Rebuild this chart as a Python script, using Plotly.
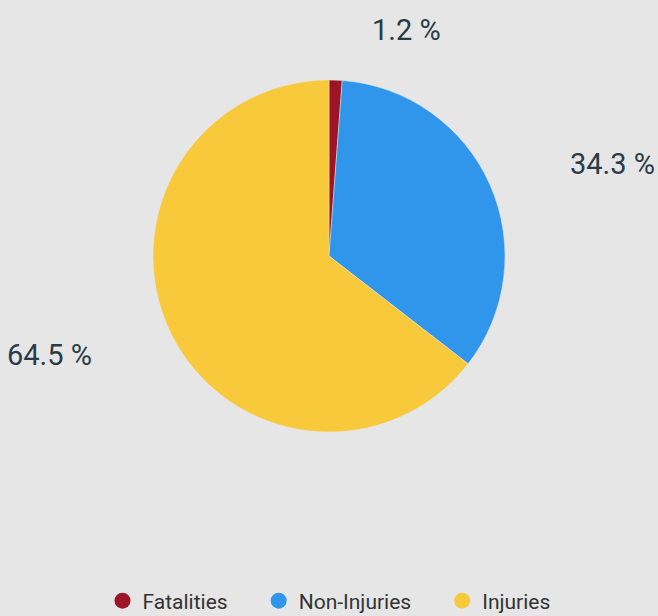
import math
import plotly.graph_objects as go

# data
categories = ["Fatalities", "Non-Injuries", "Injuries"]
shares = [1.2, 34.3, 64.5]
colors = ["#9b1527", "#2f96eb", "#f8c93a"]

W, H = 658, 616
TOP, BOTTOM = 80, 184            # pie box in pixels
CX = W / 2
CY = TOP + (H - TOP - BOTTOM) / 2
R = (H - TOP - BOTTOM) / 2
LABEL_R = R + 50
PAD = 32

fig = go.Figure()

fig.add_trace(go.Pie(
    labels=categories, values=shares,
    marker=dict(colors=colors, line=dict(color="#e6e6e6", width=0.5)),
    sort=False, direction="clockwise", rotation=0,
    textinfo="none", hoverinfo="label+percent",
    showlegend=False,
))

# legend with round markers (extra spacing after the first entries)
gap = "\u00a0" * 5
for i, (name, col) in enumerate(zip(categories, colors)):
    fig.add_trace(go.Scatter(
        x=[None], y=[None], mode="markers",
        name=name + (gap if i < len(categories) - 1 else ""),
        marker=dict(color=col, size=24, symbol="circle"),
    ))

# labels placed around the pie, derived from slice angles
total = sum(shares)
start = 0
box_h = H - TOP - BOTTOM
for v in shares:
    mid = (start + v / 2) / total * 2 * math.pi
    start += v
    dy = -LABEL_R * math.cos(mid)
    dx = math.sqrt(max(LABEL_R ** 2 - dy ** 2, 0)) + PAD
    right = math.sin(mid) >= 0
    xpx = CX + dx if right else CX - dx
    ypx = CY + dy
    fig.add_annotation(
        x=xpx / W, y=(H - BOTTOM - ypx) / box_h,
        xref="paper", yref="paper",
        xanchor="left" if right else "right", yanchor="middle",
        text=f"{v} %", showarrow=False,
        font=dict(family="Roboto", size=29, color="#2a3b47"),
    )

fig.update_layout(
    width=W, height=H,
    paper_bgcolor="#e6e6e6", plot_bgcolor="#e6e6e6",
    margin=dict(l=0, r=0, t=TOP, b=BOTTOM, autoexpand=False),
    xaxis=dict(visible=False), yaxis=dict(visible=False),
    font=dict(family="Roboto", color="#333333"),
    legend=dict(
        orientation="h", x=0.5, xanchor="center",
        y=(H - BOTTOM - 601) / box_h, yanchor="middle",
        font=dict(size=21, color="#333333"),
        itemsizing="trace",
    ),
)

fig.write_html("out.html", config={"displayModeBar": False},
               post_script="document.body.style.margin='0';")
